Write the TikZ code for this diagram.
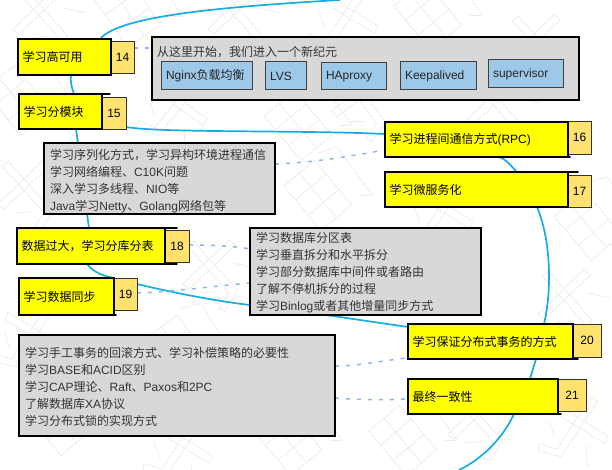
\documentclass[tikz,border=0pt]{standalone}
\usepackage{fontspec}
\setmainfont{Liberation Sans}
\newfontfamily\cjk{Noto Sans CJK SC}
\newcommand\C[1]{{\cjk #1}}
\pgfdeclarelayer{bg}
\pgfsetlayers{bg,main}
\definecolor{byellow}{HTML}{FFFF00}
\definecolor{bbadge}{HTML}{FFE36E}
\definecolor{bgray}{HTML}{D8D8D8}
\definecolor{bblue}{HTML}{9DC8E8}
\definecolor{bcurve}{HTML}{18ACE4}
\definecolor{bdash}{HTML}{8FB4EE}
\definecolor{btext}{HTML}{333333}
\definecolor{wmark}{HTML}{EBEBEB}
\tikzset{
 base/.style={anchor=north west,inner ysep=0pt,outer sep=0pt,line cap=round},
 ylw/.style={base,inner xsep=4.5pt,draw=black,line width=1.5pt,fill=byellow,font=\fontsize{12}{14}\selectfont,text=black,align=left},
 badge/.style={base,inner xsep=0pt,draw=black!80,line width=0.9pt,fill=bbadge,font=\fontsize{12}{14}\selectfont,align=center},
 graybox/.style={base,inner xsep=6pt,draw=black,line width=1.6pt,fill=bgray,font=\fontsize{12}{17}\selectfont,text=btext,align=left},
 bluebox/.style={base,inner xsep=5pt,draw=black!75,line width=1pt,fill=bblue,font=\fontsize{12}{14}\selectfont,text=black!85,align=left},
 overshoot/.style={draw=black,line width=1.5pt,line cap=round},
 flow/.style={draw=bcurve,line width=1.7pt},
 linkd/.style={draw=bdash,line width=1.5pt,dash pattern=on 4pt off 7pt},
 wmline/.style={draw=wmark,line width=0.7pt},
 wma/.pic={
  \draw[wmline] (-22,-30) rectangle (18,28);
  \draw[wmline] (-22,-12) -- (18,-12) (-22,8) -- (18,8) (-2,-30) -- (-2,28);
  \draw[wmline] (24,-34) -- (44,-26) -- (40,34) -- (30,26);
 },
 wmb/.pic={
  \draw[wmline] (-34,-10) -- (30,-14) -- (32,-6) -- (-32,-2) -- cycle;
  \draw[wmline] (-6,-36) -- (2,-36) -- (4,30) -- (-18,38) -- (-22,32) -- (-4,26) -- cycle;
  \draw[wmline] (-26,8) -- (-12,18) (18,6) -- (32,24);
 },
}
\newcommand\ybox[6]{\node[ylw,text width=#4pt-9pt,minimum height=#5pt] (#1) at (#2,#3) {#6};}
\newcommand\bdg[6]{\node[badge,text width=#4pt,minimum height=#5pt] (#1) at (#2,#3) {#6};}
\newcommand\grynode[6]{\node[graybox,text width=#4pt-12pt,minimum height=#5pt] (#1) at (#2,#3) {#6};}
\newcommand\blunode[6]{\node[bluebox,text width=#4pt-10pt,minimum height=#5pt] (#1) at (#2,#3) {#6};}
\begin{document}
\begin{tikzpicture}[x=1pt,y=-1pt]
\useasboundingbox (0,0) rectangle (612,470);
% badges
\bdg{b14}{111}{41}{23}{32}{14}
\bdg{b15}{102}{97}{24}{32}{15}
\bdg{b16}{568}{121}{23}{33}{16}
\bdg{b17}{568}{175}{23}{32}{17}
\bdg{b18}{165}{230}{24}{32}{18}
\bdg{b19}{114}{278}{23}{32}{19}
\bdg{b20}{573}{324}{28}{33}{20}
\bdg{b21}{558}{379}{28}{32}{21}
% yellow boxes
\ybox{n14}{18}{39}{93}{36}{\C{学习高可用}}
\ybox{n15}{19}{94}{83}{35}{\C{学习分模块}}
\ybox{n16}{385}{122}{183}{35}{\C{学习进程间通信方式}(RPC)}
\ybox{n17}{385}{172}{183}{35}{\C{学习微服务化}}
\ybox{n18}{17}{228}{148}{36}{\C{数据过大，学习分库分表}}
\ybox{n19}{19}{278}{95}{37}{\C{学习数据同步}}
\ybox{n20}{408}{324}{165}{35}{\C{学习保证分布式事务的方式}}
\ybox{n21}{408}{379}{150}{35}{\C{最终一致性}}
% small overshoots of the sketched outlines
\draw[overshoot] (n15.north east) -- ++(8,0);
\draw[overshoot] (n16.south east) -- ++(2,0);
\draw[overshoot] (n17.north east) -- ++(10,0);
\draw[overshoot] (n18.north east) -- ++(12,0);
\draw[overshoot] (n18.south east) -- ++(12,0);
\draw[overshoot] (n19.south east) -- ++(2,0);
\draw[overshoot] (n20.south east) -- ++(5,0);
\draw[overshoot] (n21.south east) -- ++(3,0);
% gray boxes
\grynode{g0}{152}{37}{427}{63}{}
\node[anchor=west,inner sep=0pt,font=\fontsize{12}{14}\selectfont\cjk,text=btext] (g0t) at (157,52) {从这里开始，我们进入一个新纪元};
\blunode{s1}{161}{62}{91}{28}{Nginx\C{负载均衡}}
\blunode{s2}{265}{62}{41}{28}{LVS}
\blunode{s3}{321}{63}{65}{27}{HAproxy}
\blunode{s4}{400}{62}{76}{28}{Keepalived}
\blunode{s5}{488}{60}{75}{28}{supervisor}
\grynode{g1}{44}{143}{231}{71}{\rule{0pt}{16pt}\C{学习序列化方式，学习异构环境进程通信}\\\C{学习网络编程、}C10K\C{问题}\\\C{深入学习多线程、}NIO\C{等}\\Java\C{学习}Netty\C{、}Golang\C{网络包等}}
\grynode{g2}{250}{228}{231}{87}{\rule{0pt}{13pt}\C{学习数据库分区表}\\\C{学习垂直拆分和水平拆分}\\\C{学习部分数据库中间件或者路由}\\\C{了解不停机拆分的过程}\\\C{学习}Binlog\C{或者其他增量同步方式}}
\grynode{g3}{19}{335}{316}{101}{\rule{0pt}{13pt}\C{学习手工事务的回滚方式、学习补偿策略的必要性}\\\C{学习}BASE\C{和}ACID\C{区别}\\\C{学习}CAP\C{理论、}Raft\C{、}Paxos\C{和}2PC\\\C{了解数据库}XA\C{协议}\\\C{学习分布式锁的实现方式}}
\coordinate (topend) at (340,0);
\coordinate (botend) at (459,470);
\begin{pgfonlayer}{bg}
% faint watermark strokes
\foreach \px/\py/\rt/\kd in {45/15/40/wmb,130/12/35/wma,240/15/40/wmb,345/20/-35/wmb,430/15/40/wma,540/45/40/wmb,
  20/100/40/wma,175/110/-40/wmb,300/125/40/wma,365/100/35/wmb,500/105/40/wmb,
  30/190/40/wmb,320/195/40/wma,440/215/-35/wmb,590/225/40/wma,
  30/340/-35/wmb,215/270/40/wmb,180/350/35/wma,380/290/40/wmb,570/300/40/wmb,
  60/420/40/wma,180/450/-35/wmb,290/440/40/wma,405/440/40/wma,480/420/40/wmb,575/430/-35/wmb}{
  \pic[rotate=\rt] at (\px,\py) {\kd};
}
% main flow
\draw[flow] ([xshift=-11pt]n14.north east) .. controls (118,18) and (200,8) .. (topend);
\draw[flow] ([xshift=53pt]n14.south west) .. controls ++(-1,7) and ++(-2,-6) .. ([xshift=55pt]n15.north west);
\draw[flow] ([xshift=57pt]n15.south west) -- ([xshift=34pt]g1.north west);
\draw[flow] ([xshift=43pt]g1.south west) -- ([xshift=72pt]n18.north west);
\draw[flow] ([yshift=2pt]b15.south east) .. controls (160,133) and (300,130) .. ([yshift=-12pt]n16.north west);
\draw[flow] ([xshift=114pt]n16.south west) .. controls ++(7,2) and ++(-6,-6) .. ([xshift=132pt]n17.north west);
\draw[flow] ([xshift=152pt]n17.south west) .. controls (551,240) and (552,290) .. ([xshift=136pt]n20.north west);
\draw[flow] ([xshift=128pt]n20.south west) -- ([xshift=122pt]n21.north west);
\draw[flow] ([xshift=106pt]n21.south west) .. controls (502,440) and (480,460) .. (botend);
\draw[flow] ([xshift=70pt]n18.south west) .. controls (93,272) and (103,276) .. ([xshift=95pt]n19.north west);
\draw[flow] ([yshift=-6pt]b19.north east) .. controls (170,292) and (215,301) .. ([yshift=-77pt]g2.north west);
\draw[flow] ([xshift=76pt]g2.south west) -- ([yshift=-3pt]n20.north west);
% dotted links
\draw[linkd] ([yshift=9pt]b14.east) -- ([yshift=20.5pt]g0.west);
\draw[linkd] ([yshift=14.5pt]g1.east) .. controls (320,162) and (350,156) .. ([yshift=-10.5pt]n16.west);
\draw[linkd] ([yshift=1pt]b18.east) .. controls (210,245) and (235,246) .. ([yshift=22.5pt]g2.west);
\draw[linkd] ([yshift=1pt]b19.east) .. controls (170,292) and (215,286) .. ([yshift=-11.5pt]g2.west);
\draw[linkd] ([yshift=19.5pt]g3.east) .. controls (360,366) and (385,360) .. ([yshift=-16.5pt]n20.west);
\draw[linkd] ([yshift=-12.5pt]g3.east) .. controls (360,400) and (385,400) .. ([yshift=-2.5pt]n21.west);
\end{pgfonlayer}
\end{tikzpicture}
\end{document}
